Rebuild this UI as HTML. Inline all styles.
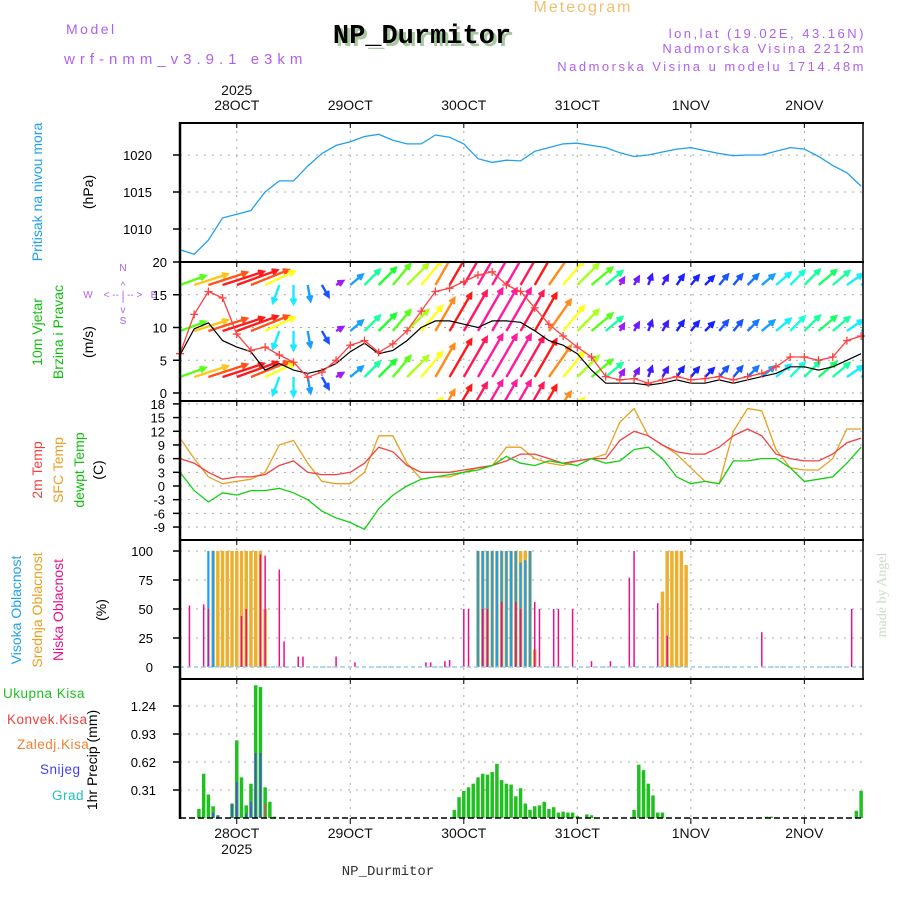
<!DOCTYPE html>
<html><head><meta charset="utf-8"><style>
body{margin:0;background:#fff;width:900px;height:900px;overflow:hidden}
svg{display:block;font-family:"Liberation Sans",sans-serif}
</style></head><body>
<svg id="c" width="900" height="900" viewBox="0 0 900 900">
<defs><clipPath id="clipW"><rect x="180" y="262" width="683" height="139"/></clipPath></defs>
<g>
<text x="66" y="34" font-size="14" fill="#b060f0" letter-spacing="2.5">Model</text>
<text x="64" y="64" font-size="15" fill="#b060f0" letter-spacing="5">wrf-nmm_v3.9.1 e3km</text>
<text x="425" y="46" font-size="27" font-weight="bold" font-family="Liberation Mono,monospace" fill="#a8c8a0" text-anchor="middle">NP_Durmitor</text>
<text x="422" y="43" font-size="27" font-weight="bold" font-family="Liberation Mono,monospace" fill="#000" text-anchor="middle">NP_Durmitor</text>
<text x="583" y="12" font-size="16" fill="#f0c070" text-anchor="middle" letter-spacing="2">Meteogram</text>
<text x="866" y="38" font-size="13" fill="#b060f0" text-anchor="end" letter-spacing="2.5">lon,lat (19.02E, 43.16N)</text>
<text x="866" y="53" font-size="13" fill="#b060f0" text-anchor="end" letter-spacing="2.5">Nadmorska Visina 2212m</text>
<text x="866" y="71" font-size="13" fill="#b060f0" text-anchor="end" letter-spacing="2.5">Nadmorska Visina u modelu 1714.48m</text>
<text x="388" y="875" font-size="14" fill="#333" text-anchor="middle" font-family="Liberation Mono,monospace">NP_Durmitor</text>
<text transform="translate(886,595) rotate(-90)" font-size="14" fill="#c8dcc8" text-anchor="middle" font-family="Liberation Serif,serif">made by Angel</text>
</g>
<g font-size="14">
<text transform="translate(42,192) rotate(-90)" fill="#20a0f0" text-anchor="middle">Pritisak na nivou mora</text>
<text transform="translate(93,192) rotate(-90)" fill="#000" text-anchor="middle">(hPa)</text>
<text transform="translate(42,332) rotate(-90)" fill="#10c010" text-anchor="middle">10m Vjetar</text>
<text transform="translate(63,332) rotate(-90)" fill="#10c010" text-anchor="middle">Brzina i Pravac</text>
<text transform="translate(93,342) rotate(-90)" fill="#000" text-anchor="middle">(m/s)</text>
<g fill="#b060f0" font-size="10" text-anchor="middle">
<text x="123" y="271">N</text><text x="123" y="289">^</text><text x="123" y="301">|</text><text x="123" y="313">v</text><text x="123" y="324">S</text>
<text x="88" y="298">W</text><text x="123" y="298">&lt; -- | -- &gt;</text><text x="154" y="298">E</text>
</g>
<text transform="translate(42,470) rotate(-90)" fill="#f04040" text-anchor="middle">2m Temp</text>
<text transform="translate(63,470) rotate(-90)" fill="#e8a020" text-anchor="middle">SFC Temp</text>
<text transform="translate(84,470) rotate(-90)" fill="#10c010" text-anchor="middle">dewpt Temp</text>
<text transform="translate(103,470) rotate(-90)" fill="#000" text-anchor="middle">(C)</text>
<text transform="translate(21,610) rotate(-90)" fill="#20a0f0" text-anchor="middle">Visoka Oblacnost</text>
<text transform="translate(42,610) rotate(-90)" fill="#e8a020" text-anchor="middle">Srednja Oblacnost</text>
<text transform="translate(63,610) rotate(-90)" fill="#e8108a" text-anchor="middle">Niska Oblacnost</text>
<text transform="translate(106,610) rotate(-90)" fill="#000" text-anchor="middle">(%)</text>
<g font-size="13.5" letter-spacing="0.5">
<text x="3" y="698" fill="#20c020">Ukupna Kisa</text>
<text x="7" y="724" fill="#f04040">Konvek.Kisa</text>
<text x="17" y="749" fill="#f08030">Zaledj.Kisa</text>
<text x="40" y="774" fill="#4040f0">Snijeg</text>
<text x="52" y="800" fill="#20c0c0">Grad</text>
</g>
<text transform="translate(97,760) rotate(-90)" fill="#000" text-anchor="middle">1hr Precip (mm)</text>
</g>
<g id="plot"></g>
</svg>
<script>
const dayLabels=["28OCT","29OCT","30OCT","31OCT","1NOV","2NOV"];
const dayHours=[12,36,60,84,108,132];
const hours3=[0,3,6,9,12,15,18,21,24,27,30,33,36,39,42,45,48,51,54,57,60,63,66,69,72,75,78,81,84,87,90,93,96,99,102,105,108,111,114,117,120,123,126,129,132,135,138,141,144];
const pressure=[1007.2,1006.6,1008.5,1011.5,1012,1012.5,1015,1016.5,1016.5,1018.5,1020.2,1021.3,1021.8,1022.5,1022.8,1022,1021.5,1021.5,1022.7,1022.4,1021.5,1019.5,1019,1019.3,1019.2,1020.5,1021,1021.5,1021.6,1021.3,1021,1020.3,1019.8,1020,1020.4,1020.8,1021,1020.6,1020.2,1019.9,1020,1020,1020.5,1021,1020.8,1019.8,1018.6,1017.6,1015.8];
const windSpeed=[6,12,15.5,14.5,9,6.5,7,5.8,4.7,2.4,3.2,5,7.3,8,6.2,7.5,9.5,12.5,15.5,16,17,18,18.5,16.5,15.5,13,10.5,8.7,7,5.5,2.5,2,2.2,1.5,2,2.5,2,2.2,2.5,2,2.5,3,4,5.5,5.5,5,5.5,8,8.7];
const windBlack=[5.8,9.8,10.7,8,7,6.3,3.5,4.5,3.5,3,3.5,4.5,6.3,7.6,6,6.5,8,10,11,11,10.5,10,11,11,10.8,9.5,8,7.3,6,3.5,1.5,1.5,1.5,1.2,1.5,2,1.5,1.5,2,1.5,2,2.5,3,4,4,3.5,4,5,6];
const arrowDir=[20,18,18,18,20,22,25,-110,-90,-80,-60,30,40,45,45,50,45,50,60,60,60,60,60,60,60,60,55,50,45,40,40,60,60,70,60,55,50,45,50,50,45,40,40,45,45,40,40,35,30];
const arrowSpd=[10,13,15,16,16,15,12,7,7,6,5,3,6,8,9,10,11,12,14,16,17,18,18,18,17,16,14,12,11,10,8,3,3.5,4,4,4.5,4.5,4.5,5,5,5.5,6,7,7.5,8,8.5,8,7,7];
const temp2m=[6,5,3,1.5,2,2,2.5,4.5,5.5,3,2.5,2.5,3,5,8.5,7.5,4.5,3,3,3,3.5,4,4.5,5.5,7,7,6,5,5.5,6,6,10,12,11,9,7.5,7,7,8.5,11,12.5,11,7,6,5.5,5.5,7,9.5,10.5];
const tempSfc=[10.5,6,2,0.5,1,1.5,3,9,10,5,1,0.5,0.5,3,11,11,5,1.5,2,2,3,4,4.5,8.5,8.5,6,5,4.5,5.5,6,7,14,17,11,9,7,4,1,0.5,12,17,16.5,8,4,3.5,3.5,6,12.5,12.5];
const dewpt=[3,-1,-3.5,-1.5,-2,-1,-1,-0.5,-1.5,-3,-5.5,-7,-8,-9.5,-5,-2,0,1.5,2,2.5,3,3.5,4.5,6.5,5,4.5,5.5,5,4.5,6,5,5.5,8,8.5,6,2,0.5,1,0.5,5.5,5.5,6,6,4,1,1.5,2,5,8.5];
const highHours=[6,7,63,64,65,66,67,68,69,70,71,72,73,74];
const highVals=[100,100,100,100,100,100,100,100,100,100,100,90,92,100];
const midHours=[7,8,9,10,11,12,13,14,15,16,17,18,63,64,65,66,67,68,69,70,71,72,73,74,75,102,103,104,105,106,107];
const midVals=[100,100,100,100,100,100,100,100,100,100,100,50,100,100,100,100,100,100,100,100,100,100,100,100,15,65,100,100,100,100,88];
const lowHours=[2,5,6,13,14,17,18,21,22,25,26,33,37,52,53,56,57,60,61,64,65,68,71,72,75,76,79,80,83,87,91,95,96,101,103,123,142];
const lowVals=[53,54,50,44,50,97,96,84,22,9,9,9,4,4,4,5,6,50,50,50,50,56,56,50,56,50,50,50,50,5,5,77,100,55,27,30,50];
const precipHours=[4,5,6,7,8,11,12,13,14,15,16,17,18,19,20,58,59,60,61,62,63,64,65,66,67,68,69,70,71,72,73,74,75,76,77,78,79,80,81,82,83,84,86,87,96,97,98,99,100,101,102,124,125,143,144];
const precipVals=[.10,.49,.26,.13,.03,.16,.86,.45,.14,.38,1.47,1.45,.34,.18,.015,.09,.23,.30,.34,.38,.45,.49,.48,.51,.60,.42,.38,.37,.24,.33,.16,.09,.13,.14,.18,.10,.12,.06,.07,.06,.06,.02,.04,.03,.09,.59,.53,.38,.25,.06,.06,.015,.015,.08,.30];
const snowHours=[7,8,11,12,14,15,16,17];
const snowVals=[.06,.03,.16,.40,.05,.18,.72,.72];
const convHours=[18];
const convVals=[.15];
const pTicks=[1010,1015,1020],wTicks=[0,5,10,15,20],tTicks=[-9,-6,-3,0,3,6,9,12,15,18],cTicks=[0,25,50,75,100],rTicks=[0.31,0.62,0.93,1.24];

const NS="http://www.w3.org/2000/svg",plot=document.getElementById('plot');
const X=h=>180+h*4.73;
const Yp=p=>155-(p-1020)*7.4, Yw=v=>393-v*6.55, Yt=t=>486-t*4.56, Yc=c=>667-c*1.16, Yr=r=>818-r*90.3;
function el(tag,attrs,parent){const e=document.createElementNS(NS,tag);for(const k in attrs)e.setAttribute(k,attrs[k]);(parent||plot).appendChild(e);return e;}
const panels=[[123,262,pTicks,Yp,152,"pressure"],[262,401,wTicks,Yw,167,"wind"],[401,540,tTicks,Yt,165,"temp"],[540,679,cTicks,Yc,153,"cloud"],[679,818,rTicks,Yr,156,"precip"]];
panels.forEach(pn=>{
  const [t,b,ticks,Y,lx,nm]=pn;
  const g=el('g',{});
  
  
  ticks.forEach(v=>{
    const y=Y(v);
    el('line',{x1:180,x2:863,y1:y,y2:y,stroke:'#aaa','stroke-dasharray':'2,6'},g);
    el('line',{x1:173,x2:180,y1:y,y2:y,stroke:'#000','stroke-width':1.5},g);
    const tx=el('text',{x:lx,y:y+5,'font-size':13,'text-anchor':'end',fill:'#000'},g);
    tx.textContent=String(v);
    
    
  });
  dayHours.forEach(h=>{
    el('line',{x1:X(h),x2:X(h),y1:t,y2:b,stroke:'#aaa','stroke-dasharray':'2,6'},g);
    el('line',{x1:X(h),x2:X(h),y1:t,y2:t+5,stroke:'#000'},g);
  });
});
function line(vals,Y,color,name,w){
  const d=vals.map((v,i)=>(i?'L':'M')+X(hours3[i]).toFixed(1)+','+Y(v).toFixed(1)).join('');
  const p=el('path',{d:d,fill:'none',stroke:color,'stroke-width':w||1.3});
  
  
  return p;
}
line(pressure,Yp,'#20a0f0','pressure-line');
const hue=s=>{const H=[[3,275],[5,225],[7,185],[9,125],[12,60],[14,30],[16,0],[18,-35]];if(s<=3)return 275;for(let i=1;i<H.length;i++){if(s<=H[i][0]){const f=(s-H[i-1][0])/(H[i][0]-H[i-1][0]);return H[i-1][1]+f*(H[i][1]-H[i-1][1]);}}return -35;};
const wg=el('g',{'clip-path':'url(#clipW)'});


[285,331,377,423].forEach(ry=>{
  hours3.forEach((h,i)=>{
    const a=arrowDir[i]*Math.PI/180,L=arrowSpd[i]*2.7,x0=X(h),x1=x0+L*Math.cos(a),y1=ry-L*Math.sin(a);
    const col='hsl('+((hue(arrowSpd[i])+360)%360)+',100%,55%)';
    const a1=a+Math.PI*0.85,a2=a-Math.PI*0.85;
    const p=el('path',{d:`M${x0},${ry}L${x1},${y1}M${x1+6*Math.cos(a1)},${y1-6*Math.sin(a1)}L${x1},${y1}L${x1+6*Math.cos(a2)},${y1-6*Math.sin(a2)}`,stroke:col,'stroke-width':2.4,fill:'none'},wg);
    
    
  });
});
line(windBlack,Yw,'#000','wind-gust-line',1.2);
line(windSpeed,Yw,'#ff4040','wind-speed-line',1.3);
hours3.forEach((h,i)=>{
  const x=X(h),y=Yw(windSpeed[i]);
  const m=el('path',{d:`M${x-4},${y}h8M${x},${y-4}v8`,stroke:'#ff4040','stroke-width':1.3});
  
  
});
line(tempSfc,Yt,'#e8a020','sfc-temp-line');
line(temp2m,Yt,'#f04040','temp-2m-line');
line(dewpt,Yt,'#10d010','dewpt-line');
function bars(hs,vs,Y,color,w,name,base){
  hs.forEach((h,i)=>{
    const y=Y(vs[i]);
    const r=el('rect',{x:X(h)-w/2,y:y,width:w,height:base-y,fill:color});
    
    
  });
}
bars(midHours,midVals,Yc,'#ecb030',3.5,'mid-cloud-bar',667);
bars(highHours,highVals,Yc,'#1aa0f0',2.2,'high-cloud-bar',667);
bars(lowHours,lowVals,Yc,'#e8108a',1.5,'low-cloud-bar',667);
el('line',{x1:180,x2:863,y1:667,y2:667,stroke:'#9cc8e8','stroke-width':1.5,'stroke-dasharray':'4,3'});
bars(precipHours,precipVals,Yr,'#20c020',3.5,'precip-bar',818);
bars(snowHours,snowVals,Yr,'#4a4af0',1.6,'snow-bar',818);
bars(convHours,convVals,Yr,'#f04040',1.2,'convective-bar',818);
[123,262,401,540,679].forEach(y=>el('line',{x1:179,x2:864,y1:y,y2:y,stroke:'#000','stroke-width':2}));
el('line',{x1:180,x2:180,y1:122,y2:819,stroke:'#000','stroke-width':2.5});
el('line',{x1:863,x2:863,y1:122,y2:679,stroke:'#000','stroke-width':1.5});
el('line',{x1:180,x2:863,y1:818,y2:818,stroke:'#000','stroke-width':1.5,'stroke-dasharray':'6,3'});
dayHours.forEach((h,i)=>{
  [[110,'top'],[838,'bottom']].forEach(([y,pos])=>{
    const t=el('text',{x:X(h),y:y,'font-size':14,'text-anchor':'middle',fill:'#111'});
    t.textContent=dayLabels[i];
    
    
  });
  el('line',{x1:X(h),x2:X(h),y1:818,y2:824,stroke:'#000'});
});
[[95,'year-label-top'],[854,'year-label-bottom']].forEach(([y,n])=>{
  const t=el('text',{x:X(12),y:y,'font-size':14,'text-anchor':'middle',fill:'#111'});
  t.textContent='2025';
  
  
});
</script>
</body></html>
